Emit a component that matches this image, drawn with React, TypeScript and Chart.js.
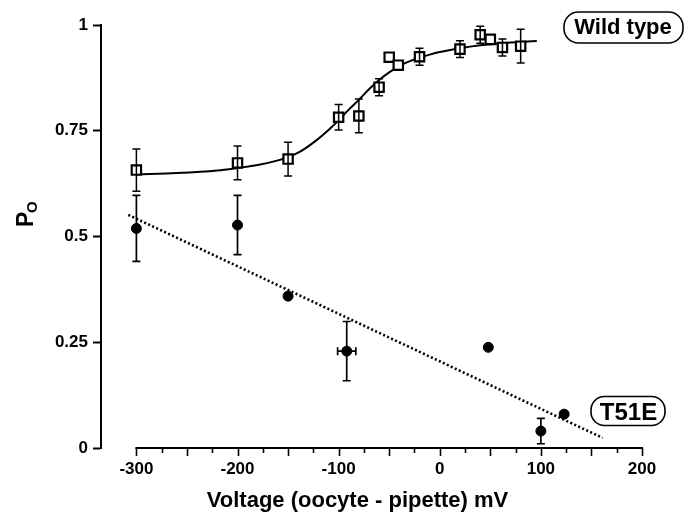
import React, { useEffect, useRef } from 'react';
import { Chart, registerables } from 'chart.js';

Chart.register(...registerables);

// ---- Data ----
const wtVoltage = [-300, -200, -150, -100, -80, -60, -50, -41, -20, 20, 40, 50, 62, 80];
const wtPo = [0.657, 0.674, 0.683, 0.782, 0.785, 0.853, 0.924, 0.905, 0.925, 0.943, 0.977, 0.966, 0.947, 0.95];
const wtErr = [0.05, 0.04, 0.04, 0.03, 0.04, 0.02, 0, 0, 0.02, 0.02, 0.02, 0, 0.02, 0.04];

const t51eVoltage = [-300, -200, -150, -92, 48, 100, 123];
const t51ePo = [0.519, 0.527, 0.359, 0.229, 0.238, 0.04, 0.08];
const t51eErr = [0.078, 0.07, 0, 0.07, 0, 0.03, 0];
const t51eXErr = [0, 0, 0, 9, 0, 0, 0];

const fitVoltage = [-300, -260, -220, -200, -180, -160, -150, -140, -125, -110, -100, -90, -80, -70, -60, -50, -40, -30, -20, -10, 0, 20, 40, 60, 80, 96];
const fitPo = [0.647, 0.65, 0.656, 0.662, 0.669, 0.68, 0.688, 0.698, 0.722, 0.752, 0.775, 0.8, 0.823, 0.848, 0.87, 0.888, 0.903, 0.914, 0.923, 0.93, 0.936, 0.945, 0.952, 0.957, 0.96, 0.962];

const trendVoltage = [-308, 161];
const trendPo = [0.551, 0.024];

const xTickValues = [-300, -200, -100, 0, 100, 200];
const xMinorTicks = [-300, -275, -250, -225, -200, -175, -150, -125, -100, -75, -50, -25, 0, 25, 50, 75, 100, 125, 150, 175, 200];
const yTickValues = [0, 0.25, 0.5, 0.75, 1];
const yTickLabels = ['0', '0.25', '0.5', '0.75', '1'];

const xTitle = 'Voltage (oocyte - pipette) mV';
const yTitleMain = 'P';
const yTitleSub = 'O';
const wtLabel = 'Wild type';
const t51eLabel = 'T51E';

const FONT = "'Liberation Sans', Arial, Helvetica, sans-serif";

export default function App() {
  const ref = useRef<HTMLCanvasElement>(null);

  useEffect(() => {
    const canvas = ref.current;
    if (!canvas) return;

    const overlay = {
      id: 'overlay',
      afterDatasetsDraw(chart: any) {
        const ctx = chart.ctx as CanvasRenderingContext2D;
        const xs = chart.scales.x;
        const ys = chart.scales.y;
        const area = chart.chartArea;
        ctx.save();
        ctx.strokeStyle = '#000';
        ctx.fillStyle = '#000';

        // x axis line and tick marks
        ctx.lineWidth = 2;
        const yb = area.bottom;
        ctx.beginPath();
        ctx.moveTo(xs.getPixelForValue(xMinorTicks[0]) - 1, yb);
        ctx.lineTo(xs.getPixelForValue(xMinorTicks[xMinorTicks.length - 1]) + 1, yb);
        ctx.stroke();
        ctx.lineWidth = 1.6;
        xMinorTicks.forEach((v) => {
          const px = Math.round(xs.getPixelForValue(v)) + 0.5;
          const len = v % 50 === 0 ? 8 : 5;
          ctx.beginPath();
          ctx.moveTo(px, yb);
          ctx.lineTo(px, yb + len);
          ctx.stroke();
        });

        // error bars
        const cap = 4;
        const vbar = (xv: number, yv: number, e: number) => {
          const px = xs.getPixelForValue(xv);
          const t = ys.getPixelForValue(yv + e);
          const b = ys.getPixelForValue(yv - e);
          ctx.beginPath();
          ctx.moveTo(px, t);
          ctx.lineTo(px, b);
          ctx.moveTo(px - cap, t);
          ctx.lineTo(px + cap, t);
          ctx.moveTo(px - cap, b);
          ctx.lineTo(px + cap, b);
          ctx.stroke();
        };
        const hbar = (xv: number, yv: number, e: number) => {
          const py = ys.getPixelForValue(yv);
          const l = xs.getPixelForValue(xv - e);
          const r = xs.getPixelForValue(xv + e);
          ctx.beginPath();
          ctx.moveTo(l, py);
          ctx.lineTo(r, py);
          ctx.moveTo(l, py - cap);
          ctx.lineTo(l, py + cap);
          ctx.moveTo(r, py - cap);
          ctx.lineTo(r, py + cap);
          ctx.stroke();
        };
        ctx.lineWidth = 1.5;
        wtVoltage.forEach((v, i) => {
          if (wtErr[i] > 0) vbar(v, wtPo[i], wtErr[i]);
        });
        ctx.lineWidth = 1.7;
        t51eVoltage.forEach((v, i) => {
          if (t51eErr[i] > 0) vbar(v, t51ePo[i], t51eErr[i]);
          if (t51eXErr[i] > 0) hbar(v, t51ePo[i], t51eXErr[i]);
        });

        // x title
        ctx.font = `bold 22px ${FONT}`;
        ctx.textAlign = 'center';
        ctx.textBaseline = 'alphabetic';
        ctx.fillText(xTitle, 357.5, 506.5);

        // y title P with subscript O (rotated)
        ctx.save();
        ctx.translate(33, 226);
        ctx.rotate(-Math.PI / 2);
        ctx.textAlign = 'left';
        ctx.font = `bold 23px ${FONT}`;
        ctx.fillText(yTitleMain, -1, 0);
        ctx.font = `bold 15px ${FONT}`;
        ctx.fillText(yTitleSub, 13, 4);
        ctx.restore();

        // label boxes
        const box = (text: string, x: number, y: number, w: number, h: number, size: number, tx: number, base: number) => {
          ctx.lineWidth = 1.6;
          ctx.beginPath();
          (ctx as any).roundRect(x, y, w, h, h / 2 - 1);
          ctx.stroke();
          ctx.font = `bold ${size}px ${FONT}`;
          ctx.textAlign = 'center';
          ctx.textBaseline = 'alphabetic';
          ctx.fillText(text, tx, base);
        };
        box(wtLabel, 564, 12, 119, 31, 22, 623, 33.5);
        box(t51eLabel, 591, 396.5, 74, 29, 24, 628.5, 420);

        ctx.restore();
      },
    };

    const chart = new Chart(canvas, {
      type: 'scatter',
      data: {
        datasets: [
          {
            label: wtLabel,
            data: wtVoltage.map((v, i) => ({ x: v, y: wtPo[i] })),
            pointStyle: 'rect',
            pointRadius: 6.6,
            pointBackgroundColor: '#fff',
            pointBorderColor: '#000',
            pointBorderWidth: 2.2,
            showLine: false,
          },
          {
            label: t51eLabel,
            data: t51eVoltage.map((v, i) => ({ x: v, y: t51ePo[i] })),
            pointStyle: 'circle',
            pointRadius: 5,
            pointBackgroundColor: '#000',
            pointBorderColor: '#000',
            pointBorderWidth: 1,
            showLine: false,
          },
          {
            label: 'fit',
            data: fitVoltage.map((v, i) => ({ x: v, y: fitPo[i] })),
            showLine: true,
            borderColor: '#000',
            borderWidth: 2,
            pointRadius: 0,
            cubicInterpolationMode: 'monotone',
            fill: false,
          },
          {
            label: 'trend',
            data: trendVoltage.map((v, i) => ({ x: v, y: trendPo[i] })),
            showLine: true,
            borderColor: '#000',
            borderWidth: 2.6,
            borderDash: [2, 2.4],
            pointRadius: 0,
            fill: false,
          },
        ],
      } as any,
      options: {
        animation: false,
        responsive: false,
        layout: { padding: { top: 25, right: 50, left: 0, bottom: 0 } },
        plugins: { legend: { display: false }, tooltip: { enabled: false } },
        scales: {
          x: {
            type: 'linear',
            min: -335,
            max: 200,
            afterFit(s: any) {
              s.height = 67;
            },
            afterBuildTicks(s: any) {
              s.ticks = xTickValues.map((v) => ({ value: v }));
            },
            grid: { display: false },
            border: { display: false },
            ticks: {
              color: '#000',
              padding: 3,
              maxRotation: 0,
              autoSkip: false,
              font: { family: FONT, size: 17, weight: 'bold' },
              callback: (v: any) => String(v),
            },
          },
          y: {
            type: 'linear',
            min: 0,
            max: 1,
            afterFit(s: any) {
              s.width = 101;
            },
            afterBuildTicks(s: any) {
              s.ticks = yTickValues.map((v) => ({ value: v }));
            },
            grid: {
              display: true,
              drawOnChartArea: false,
              drawTicks: true,
              tickLength: 8,
              tickWidth: 2,
              tickColor: '#000',
            },
            border: { display: true, color: '#000', width: 2 },
            ticks: {
              color: '#000',
              padding: 5,
              font: { family: FONT, size: 17, weight: 'bold' },
              callback: (_v: any, i: number) => yTickLabels[i],
            },
          },
        },
      } as any,
      plugins: [overlay],
    });

    return () => chart.destroy();
  }, []);

  return (
    <div style={{ position: 'fixed', left: 0, top: 0, width: 692, height: 515, background: '#fff' }}>
      <canvas ref={ref} width={692} height={515} style={{ display: 'block' }} />
    </div>
  );
}
